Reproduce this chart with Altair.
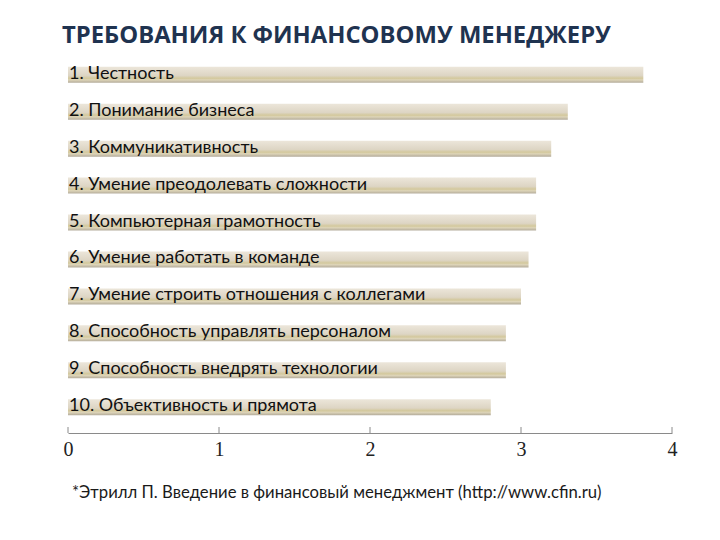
import altair as alt
import pandas as pd

labels = [
    "1. Честность",
    "2. Понимание бизнеса",
    "3. Коммуникативность",
    "4. Умение преодолевать сложности",
    "5. Компьютерная грамотность",
    "6. Умение работать в команде",
    "7. Умение строить отношения с коллегами",
    "8. Способность управлять персоналом",
    "9. Способность внедрять технологии",
    "10. Объективность и прямота",
]
values = [3.81, 3.31, 3.20, 3.10, 3.10, 3.05, 3.00, 2.90, 2.90, 2.80]
ticks = [0, 1, 2, 3, 4]
title_text = "ТРЕБОВАНИЯ К ФИНАНСОВОМУ МЕНЕДЖЕРУ"
footnote = "*Этрилл П. Введение в финансовый менеджмент (http://www.cfin.ru)"

df = pd.DataFrame({"label": labels, "value": values})
tick_df = pd.DataFrame({"t": ticks})
foot_df = pd.DataFrame({"note": [footnote]})

FONT = "Lato"
W, H = 604, 362

xscale = alt.Scale(domain=[0, 4], nice=False, zero=True)
yscale = alt.Scale(domain=labels, paddingInner=0.6, paddingOuter=0.2)

grad = alt.Gradient(
    gradient="linear",
    x1=0, y1=0, x2=0, y2=1,
    stops=[
        alt.GradientStop(color="#ece6da", offset=0),
        alt.GradientStop(color="#ddd5c4", offset=0.55),
        alt.GradientStop(color="#d3c89c", offset=0.72),
        alt.GradientStop(color="#ddd4b8", offset=0.82),
        alt.GradientStop(color="#b3ab9a", offset=1),
    ],
)

bars = alt.Chart(df).mark_bar(color=grad, size=16).encode(
    x=alt.X("value:Q", scale=xscale,
            axis=alt.Axis(values=ticks, format="d", title=None, grid=False,
                          offset=11, domainColor="#8a8a8a", domainWidth=1,
                          ticks=False, labelFont="Liberation Serif",
                          labelFontSize=20, labelColor="#222222",
                          labelPadding=6, labelFlush=False)),
    y=alt.Y("label:N", scale=yscale, axis=None, sort=labels),
)

texts = alt.Chart(df).mark_text(
    align="left", baseline="alphabetic", dx=1, dy=4, font=FONT,
    fontSize=18, color="#111111",
).encode(
    x=alt.X("zero:Q", scale=xscale),
    y=alt.Y("label:N", scale=yscale, sort=labels),
    text="label:N",
).transform_calculate(zero="0")

tick_rules = alt.Chart(tick_df).mark_rule(color="#8a8a8a", strokeWidth=1).encode(
    x=alt.X("t:Q", scale=xscale),
    y=alt.value(H + 5),
    y2=alt.value(H + 11),
)

foot = alt.Chart(foot_df).mark_text(
    align="left", baseline="middle", font=FONT, fontSize=16.7, color="#1a1a1a",
).encode(
    x=alt.value(4),
    y=alt.value(H + 71),
    text="note:N",
)

chart = alt.layer(bars, texts, tick_rules, foot).properties(
    width=W,
    height=H,
    background="white",
    title=alt.TitleParams(
        text=title_text, anchor="start", frame="group", dx=-6, offset=12,
        font="Open Sans", fontSize=23.8, fontWeight="bold", color="#1f3350",
    ),
    autosize=alt.AutoSizeParams(type="none"),
    padding={"left": 60, "top": 52, "right": 40, "bottom": 110},
).configure_view(stroke="transparent", strokeWidth=0)

chart.save("out.html", embed_options={"renderer": "svg", "actions": False})
